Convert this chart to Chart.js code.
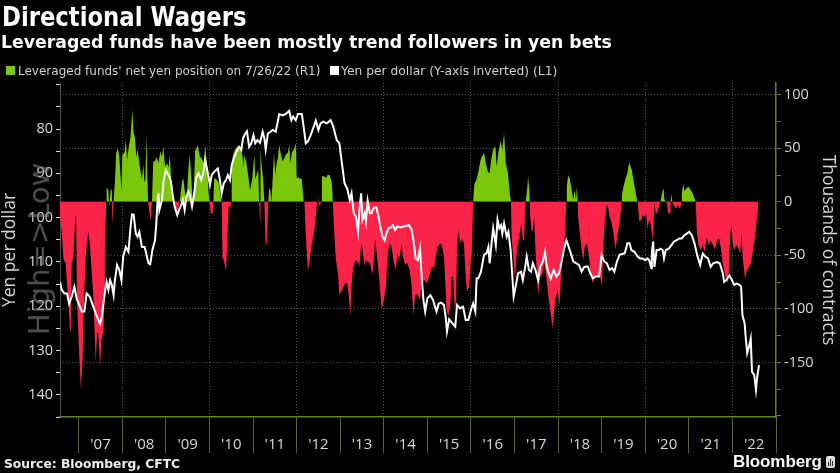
<!DOCTYPE html>
<html>
<head>
<meta charset="utf-8">
<title>Directional Wagers</title>
<script src="https://cdn.jsdelivr.net/npm/chart.js@4"></script>
<style>
  html, body { margin: 0; padding: 0; background: #000; }
  #wrap { position: relative; width: 840px; height: 473px; overflow: hidden; background: #000; font-family: "DejaVu Sans", sans-serif; color: #fff; }
  #wrap div, #wrap span { position: absolute; white-space: nowrap; }
  canvas { position: absolute; left: 0; top: 0; }
  #title { left: 2px; top: 0px; font-size: 26px; font-weight: bold; line-height: 34px; transform: scaleX(0.875); transform-origin: left center; }
  #subtitle { left: 1px; top: 30px; font-size: 17.3px; font-weight: bold; line-height: 24px; }
  .key { width: 9px; height: 9px; top: 66px; }
  .keytext { top: 62px; line-height: 18px; color: #d0d0d0; }
  #source { left: 4px; top: 456px; font-size: 12.3px; font-weight: bold; line-height: 16px; color: #eee; }
  #brand { left: 733px; top: 451px; font-size: 17px; font-weight: bold; line-height: 22px; font-family: "Liberation Sans", sans-serif; letter-spacing: -0.1px; }
  #logo { left: 826px; top: 456px; width: 9px; height: 12px; background: #ddd; border-radius: 2px; }
  #logo span { background: #333; width: 1px; bottom: 2px; }
  #watermark { left: 39px; top: 249px; font-size: 29px; line-height: 34px; color: rgba(130,130,130,0.6); transform: translate(-50%, -50%) rotate(-90deg); }
</style>
</head>
<body>
<div id="wrap">
  <canvas id="chart" width="840" height="473"></canvas>
  <div id="title">Directional Wagers</div>
  <div id="subtitle">Leveraged funds have been mostly trend followers in yen bets</div>
  <div class="key" style="left:6px;background:#7ac70c"></div>
  <div class="keytext" style="left:18px;font-size:12px">Leveraged funds' net yen position on 7/26/22 (R1)</div>
  <div class="key" style="left:330px;background:#fff"></div>
  <div class="keytext" style="left:341px;font-size:12.3px">Yen per dollar (Y-axis inverted) (L1)</div>
  <div id="watermark">High=&gt;Low</div>
  <div id="source">Source: Bloomberg, CFTC</div>
  <div id="brand">Bloomberg</div>
  <div id="logo"><span style="left:2px;height:4px"></span><span style="left:4px;height:7px"></span><span style="left:6px;height:5px"></span></div>
</div>
<script>
// year starts and labels (label sits in the middle of its year)
const yearStarts = [2007,2008,2009,2010,2011,2012,2013,2014,2015,2016,2017,2018,2019,2020,2021,2022,2023];
const yearLabels = ["'07","'08","'09","'10","'11","'12","'13","'14","'15","'16","'17","'18","'19","'20","'21","'22"];
const leftTicks = [70,75,80,85,90,95,100,105,110,115,120,125,130,135,140,145];
const rightTicks = [100,75,50,25,0,-25,-50,-75,-100,-125,-150,-175,-200];

// leveraged funds net yen position, thousands of contracts: [date, value]
const positionPoints = [
  [2006.57,-14],[2006.61,-29],[2006.65,-54],[2006.70,-57],[2006.72,-70],[2006.76,-92],[2006.80,-120],[2006.82,-104],[2006.84,-57],[2006.88,-51],[2006.92,-14],[2006.94,-14],[2006.96,-92],
  [2007.01,-142],[2007.05,-175],[2007.09,-145],[2007.11,-104],[2007.15,-61],[2007.18,-42],[2007.22,-28],[2007.26,-42],[2007.30,-67],[2007.34,-92],[2007.36,-117],[2007.39,-150],[2007.42,-123],[2007.45,-122],[2007.49,-154],[2007.52,-129],[2007.57,-120],[2007.59,-92],[2007.60,-42],[2007.63,0],
  [2007.64,13],[2007.68,11],[2007.70,-7],[2007.73,10],[2007.76,12],[2007.77,-21],[2007.80,0],[2007.83,19],[2007.86,46],[2007.90,50],[2007.93,42],[2007.96,24],[2007.98,10],
  [2008.00,44],[2008.05,46],[2008.08,58],[2008.11,39],[2008.14,49],[2008.19,61],[2008.23,86],[2008.26,64],[2008.29,60],[2008.32,42],[2008.35,49],[2008.39,36],[2008.42,28],[2008.45,21],[2008.48,35],[2008.51,18],[2008.53,21],[2008.55,63],[2008.58,17],[2008.59,0],[2008.62,-9],[2008.65,-18],[2008.68,0],[2008.71,38],[2008.75,38],[2008.79,42],[2008.83,36],[2008.87,47],[2008.91,42],[2008.94,52],[2008.98,33],
  [2009.03,36],[2009.06,32],[2009.09,44],[2009.12,21],[2009.15,14],[2009.18,0],[2009.21,-6],[2009.25,-9],[2009.30,-4],[2009.34,8],[2009.37,19],[2009.40,22],[2009.43,11],[2009.46,5],[2009.49,11],[2009.52,33],[2009.55,44],[2009.58,24],[2009.61,3],[2009.64,11],[2009.67,47],[2009.73,53],[2009.78,42],[2009.82,41],[2009.87,36],[2009.90,53],[2009.94,36],[2009.98,8],
  [2010.00,0],[2010.03,-11],[2010.07,-11],[2010.09,0],[2010.11,22],[2010.16,21],[2010.21,18],[2010.25,7],[2010.28,0],[2010.30,-54],[2010.31,-51],[2010.34,-57],[2010.38,-65],[2010.41,-36],[2010.44,-4],[2010.47,-6],[2010.50,0],[2010.51,36],[2010.54,44],[2010.59,49],[2010.64,52],[2010.68,49],[2010.72,50],[2010.76,42],[2010.78,32],[2010.80,44],[2010.85,36],[2010.90,21],[2010.93,11],[2010.98,21],
  [2011.01,35],[2011.03,44],[2011.05,21],[2011.08,25],[2011.12,30],[2011.14,0],[2011.16,-18],[2011.17,49],[2011.20,33],[2011.23,21],[2011.26,0],[2011.29,-42],[2011.32,-36],[2011.35,0],[2011.37,13],[2011.40,11],[2011.42,-1],[2011.45,21],[2011.48,46],[2011.51,25],[2011.54,36],[2011.57,41],[2011.60,53],[2011.65,42],[2011.68,38],[2011.72,41],[2011.75,44],[2011.80,46],[2011.83,53],[2011.86,36],[2011.89,46],[2011.94,49],[2011.98,55],
  [2012.00,22],[2012.03,23],[2012.07,22],[2012.12,21],[2012.16,0],[2012.18,0],[2012.20,-23],[2012.23,-45],[2012.26,-65],[2012.30,-54],[2012.35,-39],[2012.40,-29],[2012.44,-14],[2012.47,0],[2012.49,6],[2012.50,0],[2012.53,-4],[2012.56,0],[2012.58,24],[2012.63,24],[2012.67,22],[2012.71,25],[2012.76,25],[2012.81,17],[2012.83,0],[2012.86,-26],[2012.90,-54],[2012.95,-67],[2012.98,-87],
  [2013.05,-82],[2013.11,-76],[2013.16,-76],[2013.19,-85],[2013.23,-107],[2013.26,-79],[2013.29,-64],[2013.33,-57],[2013.36,-54],[2013.41,-57],[2013.44,-60],[2013.47,-45],[2013.50,-39],[2013.53,-51],[2013.56,-60],[2013.59,-54],[2013.62,-56],[2013.68,-57],[2013.74,-68],[2013.78,-51],[2013.80,-34],[2013.83,-45],[2013.86,-57],[2013.91,-79],[2013.95,-101],
  [2014.00,-92],[2014.05,-79],[2014.09,-48],[2014.14,-39],[2014.18,-42],[2014.23,-57],[2014.28,-64],[2014.31,-48],[2014.35,-54],[2014.41,-40],[2014.44,-51],[2014.49,-59],[2014.54,-57],[2014.60,-65],[2014.64,-79],[2014.68,-106],[2014.72,-87],[2014.77,-86],[2014.83,-92],[2014.87,-76],[2014.93,-73],[2014.98,-76],
  [2015.04,-70],[2015.10,-61],[2015.16,-61],[2015.19,-51],[2015.24,-42],[2015.29,-39],[2015.33,-40],[2015.38,-51],[2015.41,-73],[2015.44,-101],[2015.48,-107],[2015.53,-95],[2015.56,-70],[2015.59,-70],[2015.63,-101],[2015.66,-92],[2015.68,-42],[2015.71,-26],[2015.75,-39],[2015.79,-34],[2015.84,-39],[2015.87,-64],[2015.91,-84],[2015.96,-79],[2015.99,-57],
  [2016.02,-48],[2016.05,0],[2016.08,17],[2016.13,21],[2016.17,28],[2016.22,39],[2016.25,42],[2016.30,46],[2016.34,36],[2016.39,28],[2016.43,27],[2016.46,38],[2016.51,49],[2016.56,52],[2016.59,33],[2016.63,46],[2016.68,57],[2016.72,49],[2016.76,64],[2016.80,36],[2016.85,27],[2016.89,8],[2016.92,0],[2016.93,-32],[2016.97,-51],
  [2017.01,-73],[2017.05,-48],[2017.08,-39],[2017.12,-29],[2017.16,-20],[2017.19,-36],[2017.22,-36],[2017.25,-1],[2017.28,8],[2017.30,17],[2017.31,24],[2017.34,11],[2017.35,0],[2017.36,-14],[2017.39,-28],[2017.42,-26],[2017.45,-14],[2017.48,-45],[2017.51,-64],[2017.54,-87],[2017.59,-70],[2017.64,-67],[2017.68,-56],[2017.73,-70],[2017.77,-86],[2017.82,-101],[2017.87,-118],[2017.91,-101],[2017.95,-89],[2017.99,-82],
  [2018.03,-98],[2018.06,-73],[2018.09,-57],[2018.14,-45],[2018.19,0],[2018.20,14],[2018.23,25],[2018.27,21],[2018.31,11],[2018.35,2],[2018.38,11],[2018.41,2],[2018.43,14],[2018.45,0],[2018.46,-14],[2018.49,-26],[2018.54,-45],[2018.58,-54],[2018.61,-42],[2018.66,-39],[2018.71,-51],[2018.75,-70],[2018.80,-76],[2018.84,-70],[2018.89,-70],[2018.94,-67],[2018.98,-73],
  [2019.01,-78],[2019.04,-39],[2019.07,-20],[2019.11,-4],[2019.14,-3],[2019.18,-14],[2019.23,-20],[2019.27,-29],[2019.32,-45],[2019.36,-32],[2019.41,-20],[2019.46,0],[2019.47,8],[2019.50,14],[2019.55,22],[2019.59,27],[2019.63,37],[2019.69,30],[2019.73,20],[2019.77,11],[2019.81,2],[2019.82,0],[2019.83,-1],[2019.86,-18],[2019.91,-17],[2019.94,-12],[2019.98,-14],
  [2020.02,-11],[2020.05,-25],[2020.09,-17],[2020.12,-20],[2020.15,-29],[2020.18,-37],[2020.21,0],[2020.24,-12],[2020.28,-9],[2020.32,-4],[2020.35,0],[2020.37,5],[2020.40,11],[2020.42,12],[2020.44,2],[2020.47,0],[2020.50,-1],[2020.52,-10],[2020.57,-11],[2020.58,0],[2020.60,7],[2020.62,0],[2020.66,-4],[2020.70,-6],[2020.75,-3],[2020.80,-7],[2020.83,0],[2020.84,8],[2020.87,17],[2020.90,10],[2020.95,13],[2020.99,14],
  [2021.04,11],[2021.09,8],[2021.13,3],[2021.16,0],[2021.18,-26],[2021.22,-40],[2021.27,-45],[2021.32,-40],[2021.36,-47],[2021.41,-33],[2021.45,-40],[2021.50,-36],[2021.55,-40],[2021.60,-45],[2021.64,-37],[2021.69,-34],[2021.73,-42],[2021.78,-58],[2021.84,-70],[2021.89,-76],[2021.92,-64],[2021.95,-29],[2021.98,-23],
  [2022.01,-39],[2022.04,-45],[2022.09,-40],[2022.13,-43],[2022.18,-48],[2022.21,-29],[2022.24,-54],[2022.29,-72],[2022.33,-64],[2022.38,-61],[2022.43,-57],[2022.47,-45],[2022.52,-32],[2022.56,-17],[2022.59,-6]
];

// yen per dollar: [date, value]
const yenPoints = [
  [2006.57,114.5],[2006.61,116.3],[2006.67,117.1],[2006.73,117.1],[2006.78,119.4],[2006.84,117.8],[2006.90,115.6],[2006.95,118.2],
  [2007.01,119.7],[2007.07,121.2],[2007.13,121.2],[2007.18,117.1],[2007.25,117.8],[2007.32,119.7],[2007.39,121.6],[2007.45,123.1],[2007.49,123.9],[2007.53,122.4],[2007.57,119],[2007.62,115.6],[2007.64,114.5],[2007.68,116.3],[2007.72,114.1],[2007.76,115.2],[2007.80,117.5],[2007.83,114.1],[2007.88,110.7],[2007.93,111.8],[2007.98,114.1],
  [2008.02,108.8],[2008.08,106.6],[2008.14,107.7],[2008.19,102],[2008.22,99.3],[2008.26,99.3],[2008.31,103.6],[2008.35,104.3],[2008.39,103.2],[2008.45,106.6],[2008.51,106.6],[2008.54,107.7],[2008.60,110.3],[2008.64,110.5],[2008.69,107.3],[2008.75,105.1],[2008.78,101.3],[2008.81,96],[2008.83,94.5],[2008.85,98.3],[2008.91,96],[2008.95,91.5],
  [2009.00,89.3],[2009.06,90.4],[2009.11,91.5],[2009.15,94.5],[2009.20,97.5],[2009.26,99.4],[2009.30,98.3],[2009.35,97.2],[2009.39,96],[2009.43,98.3],[2009.47,95.3],[2009.52,94.1],[2009.55,94.9],[2009.60,97.5],[2009.64,95.3],[2009.70,90.8],[2009.75,90],[2009.81,91.5],[2009.86,90],[2009.90,87],[2009.95,89.3],
  [2010.01,92.6],[2010.05,90.4],[2010.11,89.6],[2010.19,88.9],[2010.24,91.5],[2010.28,94.5],[2010.33,92.2],[2010.38,91.5],[2010.42,90.4],[2010.47,91.5],[2010.51,88.1],[2010.56,86.6],[2010.62,85.1],[2010.68,84],[2010.73,84.7],[2010.77,82.1],[2010.82,81],[2010.86,80.5],[2010.91,84],[2010.96,83.2],
  [2011.01,81.4],[2011.05,83.2],[2011.10,82.5],[2011.16,83.1],[2011.22,80.6],[2011.26,82.1],[2011.29,84.6],[2011.34,81],[2011.40,80.6],[2011.45,80.2],[2011.52,80.6],[2011.56,78.7],[2011.60,76.6],[2011.68,76.9],[2011.75,76.6],[2011.83,75.9],[2011.88,78],[2011.92,77.2],[2011.98,78],
  [2012.03,76.6],[2012.12,76.6],[2012.17,80.2],[2012.21,83.2],[2012.26,82.8],[2012.32,81.4],[2012.38,79.8],[2012.44,78.1],[2012.50,80.2],[2012.55,78.7],[2012.61,78.3],[2012.69,78.7],[2012.78,78],[2012.84,79.4],[2012.92,82.5],[2012.98,83.2],
  [2013.04,87.8],[2013.10,92.3],[2013.16,93.4],[2013.22,96],[2013.26,94.5],[2013.31,99],[2013.36,99.8],[2013.41,103.2],[2013.44,98.3],[2013.48,94.5],[2013.51,100.5],[2013.56,99],[2013.59,100.9],[2013.63,96.2],[2013.68,99],[2013.72,99],[2013.77,97.7],[2013.83,97.7],[2013.88,99.8],[2013.92,102],[2013.97,104.3],
  [2014.02,105.1],[2014.06,103.6],[2014.11,102.4],[2014.16,102.2],[2014.21,101.7],[2014.26,102.8],[2014.31,102],[2014.39,102.2],[2014.49,101.9],[2014.58,101.7],[2014.64,102.8],[2014.69,105.8],[2014.73,109.2],[2014.78,109.6],[2014.83,106.9],[2014.87,113.3],[2014.91,118.6],[2014.95,121.2],
  [2015.00,118.2],[2015.07,117.5],[2015.13,118.6],[2015.21,121.2],[2015.26,119.4],[2015.32,119.2],[2015.38,119.7],[2015.42,122.4],[2015.45,125.7],[2015.50,122.9],[2015.56,123.7],[2015.64,124.6],[2015.68,119.7],[2015.75,120.5],[2015.82,120.1],[2015.88,123.1],[2015.94,123.1],
  [2016.01,120.5],[2016.05,119.4],[2016.10,121.2],[2016.13,113.7],[2016.17,113.7],[2016.23,112.2],[2016.30,108.4],[2016.36,108],[2016.40,106.6],[2016.43,110.3],[2016.48,105.1],[2016.51,102.4],[2016.57,106.2],[2016.61,100.5],[2016.65,102.4],[2016.69,101.7],[2016.72,103.6],[2016.76,101.3],[2016.82,104.3],[2016.86,103.2],[2016.91,107.3],[2016.95,113.3],[2016.98,117.8],
  [2017.04,114.8],[2017.08,112.6],[2017.15,112.2],[2017.19,114.1],[2017.24,111.4],[2017.28,108.8],[2017.33,111.8],[2017.38,112.2],[2017.42,110.3],[2017.48,111.8],[2017.54,114.1],[2017.59,111.1],[2017.65,109.9],[2017.70,107.7],[2017.73,110.3],[2017.77,112.2],[2017.83,113.7],[2017.90,111.8],[2017.96,113.3],
  [2018.02,112.6],[2018.08,109.9],[2018.13,107.3],[2018.19,105.1],[2018.23,106.2],[2018.29,108],[2018.35,109.9],[2018.42,110.3],[2018.48,110.7],[2018.54,112.2],[2018.60,111.1],[2018.68,111],[2018.74,112.6],[2018.80,113.7],[2018.86,113.3],[2018.94,113.3],
  [2019.00,108.4],[2019.06,109.9],[2019.12,110.3],[2019.18,111.8],[2019.24,111.4],[2019.29,112.2],[2019.35,109.9],[2019.41,108.4],[2019.47,108.2],[2019.53,108],[2019.59,105.8],[2019.64,105.8],[2019.68,107.3],[2019.75,107.7],[2019.82,108.7],[2019.88,109.2],[2019.94,109.2],
  [2020.00,109.6],[2020.05,109.2],[2020.09,109.6],[2020.14,111.4],[2020.15,108],[2020.18,105.4],[2020.21,111.1],[2020.26,107.3],[2020.31,107.3],[2020.35,107],[2020.40,107.3],[2020.43,109.2],[2020.47,107.3],[2020.54,107],[2020.60,106.2],[2020.66,105.4],[2020.72,105.1],[2020.78,104.7],[2020.84,104.7],[2020.89,104],[2020.95,103.6],
  [2021.01,103.2],[2021.07,104],[2021.13,105.8],[2021.19,108.4],[2021.26,110.7],[2021.32,108.1],[2021.38,108.8],[2021.44,109.2],[2021.50,111.1],[2021.56,110.3],[2021.64,110],[2021.71,110.3],[2021.78,112.6],[2021.81,114.5],[2021.87,114],[2021.93,113],[2021.99,114.1],
  [2022.04,115.2],[2022.10,114.9],[2022.17,115.2],[2022.20,115.6],[2022.23,122],[2022.28,123.9],[2022.31,127.6],[2022.34,130.6],[2022.38,129.1],[2022.42,127.3],[2022.45,134.8],[2022.50,135.5],[2022.54,138.9],[2022.57,135.9],[2022.61,133.3]
];

const toXY = p => ({ x: p[0], y: p[1] });
const labelColor = '#d8d8d8';
const gridDots = 'rgba(200,200,200,0.4)';
const olive = '#62832a';
const axisFont = { family: 'Open Sans', size: 14.5 };
const titleFont = { family: 'Open Sans', size: 17.5 };

new Chart(document.getElementById('chart'), {
  type: 'line',
  data: {
    datasets: [
      {
        label: 'Yen per dollar',
        data: yenPoints.map(toXY),
        yAxisID: 'yLeft',
        borderColor: '#fff',
        borderWidth: 2,
        pointRadius: 0,
        fill: false,
        order: 1
      },
      {
        label: "Leveraged funds' net yen position",
        data: positionPoints.map(toXY),
        yAxisID: 'yRight',
        borderWidth: 0,
        pointRadius: 0,
        fill: { target: { value: 0 }, above: '#7ac70c', below: '#fb2448' },
        order: 2
      }
    ]
  },
  options: {
    responsive: false,
    animation: false,
    layout: { padding: { top: 83, left: 0, right: 0, bottom: 0 } },
    plugins: { legend: { display: false }, title: { display: false }, tooltip: { enabled: false } },
    scales: {
      x: {
        type: 'linear',
        min: 2006.57,
        max: 2023,
        afterBuildTicks: axis => {
          const ticks = [];
          yearStarts.forEach((y, i) => {
            ticks.push({ value: y });
            if (i < yearLabels.length) ticks.push({ value: y + 0.5 });
          });
          axis.ticks = ticks;
        },
        afterFit: axis => { axis.height = 56; },
        border: { color: olive, width: 1.5, dash: [1, 2] },
        grid: {
          drawTicks: true,
          tickLength: 36,
          color: c => (c.tick && Number.isInteger(c.tick.value) && c.tick.value % 2 === 0 && c.tick.value < 2023) ? gridDots : 'transparent',
          tickColor: c => (c.tick && Number.isInteger(c.tick.value)) ? '#55653f' : 'transparent'
        },
        ticks: {
          autoSkip: false,
          maxRotation: 0,
          padding: -17,
          color: labelColor,
          font: { family: 'Open Sans', size: 15 },
          callback: v => Number.isInteger(v) ? '' : yearLabels[Math.floor(v) - yearStarts[0]]
        }
      },
      yLeft: {
        type: 'linear',
        position: 'left',
        reverse: true,
        min: 69.6,
        max: 145,
        afterBuildTicks: axis => { axis.ticks = leftTicks.map(v => ({ value: v })); },
        afterFit: axis => { axis.width = 60; },
        border: { color: '#555', width: 1 },
        grid: { drawOnChartArea: false, tickLength: 4, tickColor: '#ddd' },
        ticks: {
          autoSkip: false,
          padding: 3,
          color: labelColor,
          font: axisFont,
          callback: v => (v % 10 === 0 && v !== 70) ? String(v) : ''
        },
        title: { display: true, text: 'Yen per dollar', color: labelColor, font: titleFont, padding: { top: 0, bottom: 0 } }
      },
      yRight: {
        type: 'linear',
        position: 'right',
        min: -201,
        max: 111,
        afterBuildTicks: axis => { axis.ticks = rightTicks.map(v => ({ value: v })); },
        afterFit: axis => { axis.width = 64; },
        border: { color: olive, width: 1.5, dash: [1, 2] },
        grid: {
          tickLength: 5,
          tickColor: olive,
          color: c => (c.tick && c.tick.value % 50 === 0 && c.tick.value !== 0 && c.tick.value !== -200) ? gridDots : 'transparent'
        },
        ticks: {
          autoSkip: false,
          padding: 3,
          color: labelColor,
          font: axisFont,
          callback: v => (v % 50 === 0 && v !== -200) ? String(v) : ''
        },
        title: { display: true, text: 'Thousands of contracts', color: labelColor, font: titleFont, padding: { top: 2, bottom: 2 } }
      }
    }
  }
});
</script>
</body>
</html>
